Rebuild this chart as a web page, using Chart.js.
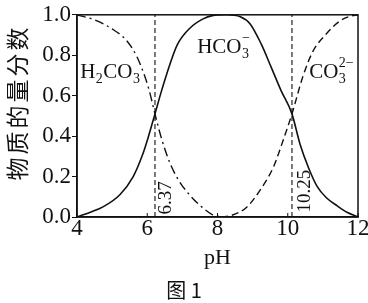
<!DOCTYPE html>
<html>
<head>
<meta charset="utf-8">
<script src="https://cdn.jsdelivr.net/npm/chart.js@4.4.1/dist/chart.umd.min.js"></script>
<style>
    html, body { margin: 0; padding: 0; background: #fff; }
    #caixa { width: 368px; height: 303px; }
</style>
</head>
<body>
<div id="caixa"><canvas id="grafico"></canvas></div>
<script>
// eixos
const xTicks = [4, 6, 8, 10, 12];
const yTicks = [0.0, 0.2, 0.4, 0.6, 0.8, 1.0];

// H2CO3 (traço-ponto)
const phH2CO3 = [4.0, 4.5, 5.0, 5.4, 5.7, 5.9, 6.05, 6.22, 6.42, 6.65, 6.9, 7.2, 7.55, 7.85, 8.15];
const fracH2CO3 = [1.0, 0.975, 0.93, 0.875, 0.795, 0.71, 0.63, 0.51, 0.38, 0.265, 0.18, 0.11, 0.05, 0.012, 0.0];

// HCO3- (linha cheia)
const phHCO3 = [4.0, 4.4, 4.74, 5.22, 5.6, 5.85, 6.02, 6.22, 6.4, 6.56, 6.85, 7.22, 7.59, 7.85, 8.25, 8.65, 8.93, 9.24, 9.53, 9.81, 10.12, 10.35, 10.6, 10.84, 11.1, 11.41, 11.7, 12.0];
const fracHCO3 = [0.0, 0.025, 0.05, 0.11, 0.2, 0.3, 0.39, 0.51, 0.62, 0.71, 0.85, 0.935, 0.98, 0.996, 1.0, 0.99, 0.955, 0.857, 0.74, 0.625, 0.51, 0.36, 0.24, 0.15, 0.095, 0.055, 0.022, 0.0];

// CO3 2- (tracejada)
const phCO3 = [8.1, 8.4, 8.84, 9.24, 9.6, 9.87, 10.12, 10.44, 10.72, 11.12, 11.49, 11.78, 12.0];
const fracCO3 = [0.0, 0.008, 0.05, 0.14, 0.25, 0.38, 0.51, 0.7, 0.82, 0.91, 0.97, 0.993, 1.0];

// linhas verticais (pKa)
const markPH = [6.22, 10.12];
const markLabels = ['6.37', '10.25'];

const serif = "'Liberation Serif', 'Times New Roman', 'Noto Sans CJK SC', serif";

function pares(xs, ys) {
    return xs.map((x, i) => ({ x: x, y: ys[i] }));
}

// escreve formula quimica com indices
function escreveFormula(ctx, partes, x, y) {
    let cx = x;
    partes.forEach(p => {
        if (p.n) {
            ctx.font = '21px ' + serif;
            ctx.fillText(p.n, cx, y);
            cx += ctx.measureText(p.n).width;
        } else {
            let w = 0;
            ctx.font = '14px ' + serif;
            if (p.sub) {
                ctx.fillText(p.sub, cx + 0.5, y + 5);
                w = Math.max(w, ctx.measureText(p.sub).width);
            }
            if (p.sup) {
                ctx.fillText(p.sup, cx + 0.5, y - 11);
                w = Math.max(w, ctx.measureText(p.sup).width);
            }
            cx += w + 1;
        }
    });
}

const rotulos = {
    id: 'rotulos',
    afterDraw(chart) {
        const ctx = chart.ctx;
        const sx = chart.scales.x;
        const sy = chart.scales.y;
        const a = chart.chartArea;
        ctx.save();
        ctx.fillStyle = '#111';
        ctx.strokeStyle = '#111';

        // moldura
        ctx.lineWidth = 1.5;
        ctx.strokeRect(a.left, a.top, a.right - a.left, a.bottom - a.top);

        // marcas internas do eixo x
        ctx.lineWidth = 1;
        xTicks.forEach(v => {
            const px = sx.getPixelForValue(v);
            ctx.beginPath();
            ctx.moveTo(px, a.bottom);
            ctx.lineTo(px, a.bottom - 4);
            ctx.stroke();
        });

        ctx.textAlign = 'left';
        ctx.textBaseline = 'alphabetic';
        escreveFormula(ctx, [{ n: 'H' }, { sub: '2' }, { n: 'CO' }, { sub: '3' }],
            sx.getPixelForValue(4.09), sy.getPixelForValue(0.685));
        escreveFormula(ctx, [{ n: 'HCO' }, { sub: '3', sup: '\u2212' }],
            sx.getPixelForValue(7.42), sy.getPixelForValue(0.81));
        escreveFormula(ctx, [{ n: 'CO' }, { sub: '3', sup: '2\u2212' }],
            sx.getPixelForValue(10.61), sy.getPixelForValue(0.685));

        // valores de pKa, girados
        const pos = [[6.54, 0.094], [10.5, 0.128]];
        ctx.font = '19px ' + serif;
        ctx.textAlign = 'center';
        ctx.textBaseline = 'middle';
        markLabels.forEach((t, i) => {
            ctx.save();
            ctx.translate(sx.getPixelForValue(pos[i][0]), sy.getPixelForValue(pos[i][1]));
            ctx.rotate(-Math.PI / 2);
            ctx.fillText(t, 0, 0);
            ctx.restore();
        });

        // titulo do eixo y
        ctx.save();
        ctx.translate(17, 104);
        ctx.rotate(-Math.PI / 2);
        ctx.font = "23px 'Noto Sans CJK SC', sans-serif";
        ctx.letterSpacing = '3px';
        ctx.fillText('物质的量分数', 1.5, 0);
        ctx.restore();

        // legenda da figura
        ctx.font = "20px 'Noto Sans CJK SC', " + serif;
        ctx.fillText('图 1', 184, 290);
        ctx.restore();
    }
};

const linhasPKa = markPH.map(m => ({
    data: [{ x: m, y: 0 }, { x: m, y: 1 }],
    borderColor: '#222',
    borderWidth: 1.2,
    borderDash: [5, 3],
    pointRadius: 0,
    showLine: true
}));

new Chart(document.getElementById('grafico'), {
    type: 'scatter',
    data: {
        datasets: [
            {
                label: 'H2CO3',
                data: pares(phH2CO3, fracH2CO3),
                borderColor: '#111',
                borderWidth: 1.4,
                borderDash: [9, 4, 2, 4],
                pointRadius: 0,
                showLine: true,
                cubicInterpolationMode: 'monotone'
            },
            {
                label: 'HCO3-',
                data: pares(phHCO3, fracHCO3),
                borderColor: '#111',
                borderWidth: 1.6,
                pointRadius: 0,
                showLine: true,
                cubicInterpolationMode: 'monotone'
            },
            {
                label: 'CO3 2-',
                data: pares(phCO3, fracCO3),
                borderColor: '#111',
                borderWidth: 1.4,
                borderDash: [7, 4],
                pointRadius: 0,
                showLine: true,
                cubicInterpolationMode: 'monotone'
            },
            ...linhasPKa
        ]
    },
    options: {
        responsive: true,
        maintainAspectRatio: false,
        animation: false,
        layout: { padding: { left: 0, right: 10, top: 14, bottom: 0 } },
        plugins: {
            legend: { display: false },
            tooltip: { enabled: false }
        },
        scales: {
            x: {
                type: 'linear',
                min: 4,
                max: 12,
                afterFit: s => { s.height = 86; },
                afterBuildTicks: s => { s.ticks = xTicks.map(v => ({ value: v })); },
                grid: { drawOnChartArea: false, drawTicks: false },
                border: { color: '#111', width: 1.5 },
                ticks: {
                    padding: -2,
                    color: '#111',
                    font: { family: serif, size: 23 }
                },
                title: {
                    display: true,
                    text: 'pH',
                    color: '#111',
                    font: { family: serif, size: 22, lineHeight: 1.2 },
                    padding: { bottom: 32 }
                }
            },
            y: {
                min: 0,
                max: 1,
                afterFit: s => { s.width = 77; },
                afterBuildTicks: s => { s.ticks = yTicks.map(v => ({ value: v })); },
                grid: { drawOnChartArea: false, tickLength: 5, color: '#111' },
                border: { color: '#111', width: 1.5 },
                ticks: {
                    padding: 1,
                    color: '#111',
                    font: { family: serif, size: 23 },
                    callback: v => v.toFixed(1)
                }
            }
        }
    },
    plugins: [rotulos]
});
</script>
</body>
</html>
